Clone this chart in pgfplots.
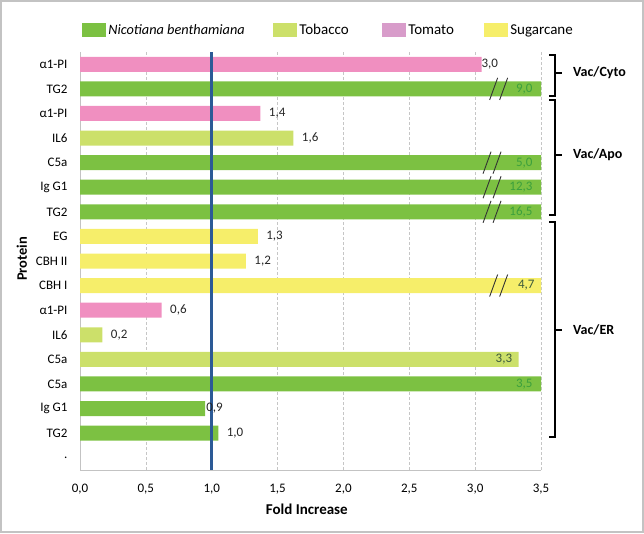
\documentclass[border=0pt]{standalone}
\usepackage{pgfplots}
\pgfplotsset{compat=1.18}
\usepackage{pgfplotstable}
\usepackage{fontspec}
\setmainfont{Carlito}
\definecolor{nb}{RGB}{124,193,66}
\definecolor{tob}{RGB}{204,224,106}
\definecolor{tom}{RGB}{240,143,192}
\definecolor{tomleg}{RGB}{216,156,202}
\definecolor{sug}{RGB}{246,238,106}
\definecolor{vline}{RGB}{44,90,150}
\definecolor{lblgreen}{RGB}{60,160,60}
\definecolor{lbldark}{RGB}{60,90,60}
\definecolor{frame}{RGB}{195,195,195}
\pgfplotsset{swatch/.style={legend image code/.code={\fill[#1,draw=none] (0pt,-7pt) rectangle (24pt,7pt);}}}

% rows: 0 = top ... 16 = bottom
\pgfplotstableread{
y x
1 9.0
4 5.0
5 12.3
6 16.5
13 3.5
14 0.95
15 1.05
}\nbdata
\pgfplotstableread{
y x
3 1.62
11 0.17
12 3.33
}\tobdata
\pgfplotstableread{
y x
0 3.05
2 1.37
10 0.62
}\tomdata
\pgfplotstableread{
y x
7 1.35
8 1.26
9 4.7
}\sugdata
\pgfplotstableread{
y x lab
2 1.37 1,4
3 1.62 1,6
7 1.35 1,3
8 1.26 1,2
10 0.62 0,6
11 0.17 0,2
15 1.05 1,0
}\outlab
\pgfplotstableread{
y x lab
0 3.04 3,0
14 0.95 0,9
}\tightlab
\pgfplotstableread{
y x lab
1 3.5 9,0
4 3.5 5,0
5 3.5 12,3
6 3.5 16,5
13 3.5 3,5
}\greenlab
\pgfplotstableread{
y x lab
9 3.5 4,7
12 3.33 3,3
}\darklab

\begin{document}
\begin{tikzpicture}
\begin{axis}[
  scale only axis, width=461pt, height=418pt,
  xmin=0, xmax=3.5, ymin=-0.5, ymax=16.5, y dir=reverse,
  axis x line*=bottom, axis y line*=left,
  axis line style={frame, line width=1pt, -},
  xtick={0,0.5,1,1.5,2,2.5,3,3.5},
  xticklabel style={font=\fontsize{13}{15}\selectfont, yshift=-11pt},
  /pgf/number format/.cd, fixed, fixed zerofill, precision=1, use comma, assume math mode=true,
  /pgfplots/.cd,
  ytick={0,...,16},
  yticklabels={α1-PI,TG2,α1-PI,IL6,C5a,Ig G1,TG2,EG,CBH II,CBH I,α1-PI,IL6,C5a,C5a,Ig G1,TG2,.},
  yticklabel style={font=\fontsize{13}{15}\selectfont, xshift=-9pt},
  major tick length=0pt,
  xmajorgrids, grid style={densely dashed, gray!45, line width=0.6pt},
  xlabel={\textbf{Fold Increase}},
  xlabel style={font=\fontsize{15}{17}\selectfont, at={(axis description cs:0.492,-0.094)}, anchor=center},
  ylabel={\textbf{Protein}},
  ylabel style={font=\fontsize{14.5}{16}\selectfont, at={(axis description cs:-0.126,0.505)}, anchor=center},
  legend style={at={(axis description cs:0.005,1)}, anchor=south west, yshift=14pt, draw=none, fill=none,
    legend columns=4, font=\fontsize{15}{17}\selectfont,
    /tikz/column sep=0pt, inner sep=0pt, outer sep=0pt},
  legend cell align=left,
  every node near coord/.append style={font=\fontsize{13}{15}\selectfont},
]
\addplot[xbar, bar width=15pt, bar shift=0pt, draw=none, fill=nb, swatch=nb] table[x=x,y=y] {\nbdata};
\addlegendentry{\makebox[163pt][l]{\fontsize{14.3}{16}\selectfont\textit{Nicotiana benthamiana}}}
\addplot[xbar, bar width=15pt, bar shift=0pt, draw=none, fill=tob, swatch=tob] table[x=x,y=y] {\tobdata};
\addlegendentry{\makebox[81pt][l]{Tobacco}}
\addplot[xbar, bar width=15pt, bar shift=0pt, draw=none, fill=tom, swatch=tomleg] table[x=x,y=y] {\tomdata};
\addlegendentry{\makebox[74pt][l]{Tomato}}
\addplot[xbar, bar width=15pt, bar shift=0pt, draw=none, fill=sug, swatch=sug] table[x=x,y=y] {\sugdata};
\addlegendentry{Sugarcane}
% reference line at 1.0
\addplot[vline, line width=3pt, forget plot] coordinates {(1,-0.5) (1,16.5)};
% value labels
\addplot[draw=none, mark=none, forget plot, nodes near coords, point meta=explicit symbolic,
  every node near coord/.append style={anchor=west, xshift=5pt, text=black!85}] table[x=x,y=y,meta=lab] {\outlab};
\addplot[draw=none, mark=none, forget plot, nodes near coords, point meta=explicit symbolic,
  every node near coord/.append style={anchor=west, inner sep=1pt, text=black!85}] table[x=x,y=y,meta=lab] {\tightlab};
\addplot[draw=none, mark=none, forget plot, nodes near coords, point meta=explicit symbolic,
  every node near coord/.append style={anchor=east, xshift=-5pt, text=lblgreen}] table[x=x,y=y,meta=lab] {\greenlab};
\addplot[draw=none, mark=none, forget plot, nodes near coords, point meta=explicit symbolic,
  every node near coord/.append style={anchor=east, xshift=-3pt, text=lbldark}] table[x=x,y=y,meta=lab] {\darklab};
% axis break marks
\draw[black!80, line width=0.9pt] (axis cs:3.11,1) ++(0pt,-11pt) -- ++(8pt,22pt);
\draw[black!80, line width=0.9pt] (axis cs:3.11,1) ++(10pt,-11pt) -- ++(8pt,22pt);
\draw[black!80, line width=0.9pt] (axis cs:3.06,4) ++(0pt,-11pt) -- ++(8pt,22pt);
\draw[black!80, line width=0.9pt] (axis cs:3.06,4) ++(10pt,-11pt) -- ++(8pt,22pt);
\draw[black!80, line width=0.9pt] (axis cs:3.06,5) ++(0pt,-11pt) -- ++(8pt,22pt);
\draw[black!80, line width=0.9pt] (axis cs:3.06,5) ++(10pt,-11pt) -- ++(8pt,22pt);
\draw[black!80, line width=0.9pt] (axis cs:3.06,6) ++(0pt,-11pt) -- ++(8pt,22pt);
\draw[black!80, line width=0.9pt] (axis cs:3.06,6) ++(10pt,-11pt) -- ++(8pt,22pt);
\draw[black!80, line width=0.9pt] (axis cs:3.11,9) ++(0pt,-11pt) -- ++(8pt,22pt);
\draw[black!80, line width=0.9pt] (axis cs:3.11,9) ++(10pt,-11pt) -- ++(8pt,22pt);
\end{axis}
% brackets for compartments
\begin{scope}[line width=2.2pt, black]
  \draw (469pt,415pt) -- (475pt,415pt) -- (475pt,374pt) -- (469pt,374pt);
  \draw (475pt,397pt) -- (482pt,397pt);
  \draw (469pt,370pt) -- (475pt,370pt) -- (475pt,255pt) -- (469pt,255pt);
  \draw (475pt,315pt) -- (482pt,315pt);
  \draw (469pt,248pt) -- (475pt,248pt) -- (475pt,33pt) -- (469pt,33pt);
  \draw (475pt,140pt) -- (482pt,140pt);
\end{scope}
\node[anchor=west, font=\fontsize{14}{16}\selectfont\bfseries, inner sep=0pt] at (493pt,397pt) {Vac/Cyto};
\node[anchor=west, font=\fontsize{14}{16}\selectfont\bfseries, inner sep=0pt] at (493pt,315pt) {Vac/Apo};
\node[anchor=west, font=\fontsize{14}{16}\selectfont\bfseries, inner sep=0pt] at (493pt,140pt) {Vac/ER};
\pgfresetboundingbox
\useasboundingbox (-80pt,-63pt) rectangle (564pt,470pt);
\draw[frame, line width=2pt] (-79pt,-62pt) rectangle (563pt,469pt);
\end{tikzpicture}
\end{document}
